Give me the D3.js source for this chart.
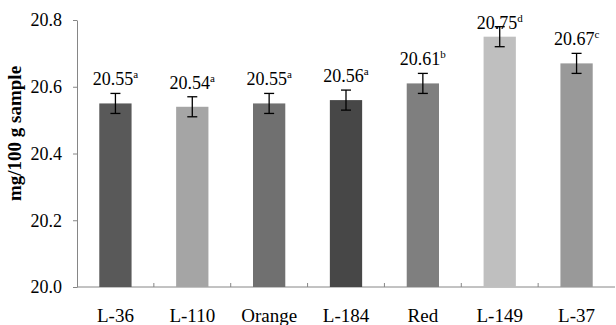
<!DOCTYPE html>
<html lang="en">
<head>
    <meta charset="UTF-8">
    <title>mg/100 g sample</title>
</head>
<body style="margin:0;background:#fff">
    <svg width="616" height="325"></svg>

    <script src="https://d3js.org/d3.v7.min.js"></script>
    <script>
        const categories = ["L-36", "L-110", "Orange", "L-184", "Red", "L-149", "L-37"];
        const values = [20.55, 20.54, 20.55, 20.56, 20.61, 20.75, 20.67];
        const errors = [0.03, 0.03, 0.03, 0.03, 0.03, 0.03, 0.03];
        const letters = ["a", "a", "a", "a", "b", "d", "c"];
        const yTicks = [20.0, 20.2, 20.4, 20.6, 20.8];
        const colors = ["#595959", "#a5a5a5", "#707070", "#474747", "#7f7f7f", "#bfbfbf", "#999999"];

        const width = 616, height = 325;
        const margin = { top: 20, right: 1, bottom: 38, left: 77 };
        const innerW = width - margin.left - margin.right;
        const innerH = height - margin.top - margin.bottom;
        const serif = '"Liberation Serif"';

        const svg = d3.select("svg");
        const g = svg.append("g").attr("transform", `translate(${margin.left},${margin.top})`);

        const x = d3.scaleBand().domain(categories).range([0, innerW]).paddingInner(0.58).paddingOuter(0.29);
        const y = d3.scaleLinear().domain([20.0, 20.8]).range([innerH, 0]);

        const rows = categories.map((c, i) => ({ c, v: values[i], e: errors[i], l: letters[i], col: colors[i] }));

        // y axis
        const yAxis = g.append("g")
            .call(d3.axisLeft(y).tickValues(yTicks).tickFormat(d3.format(".1f")).tickSize(4).tickSizeOuter(0));
        yAxis.selectAll("path, line").attr("stroke", "#868686");
        yAxis.selectAll("text").attr("x", -15)
            .style("font-family", serif).style("font-size", "18px").style("fill", "#000");

        // x axis with ticks between categories
        const bounds = d3.range(categories.length + 1).map(i => i * innerW / categories.length);
        g.append("line")
            .attr("x1", 0).attr("x2", innerW).attr("y1", innerH).attr("y2", innerH)
            .attr("stroke", "#868686");
        g.selectAll(".xtick").data(bounds.slice(1, -1)).enter().append("line")
            .attr("x1", d => d).attr("x2", d => d)
            .attr("y1", innerH).attr("y2", innerH - 4)
            .attr("stroke", "#868686");
        g.selectAll(".xlab").data(categories).enter().append("text")
            .attr("x", d => x(d) + x.bandwidth() / 2)
            .attr("y", innerH + 35)
            .attr("text-anchor", "middle")
            .style("font-family", serif)
            .style("font-size", "19px")
            .text(d => d);

        // bars
        g.selectAll(".bar").data(rows).enter().append("rect")
            .attr("x", d => x(d.c))
            .attr("width", x.bandwidth())
            .attr("y", d => y(d.v))
            .attr("height", d => innerH - y(d.v))
            .attr("fill", d => d.col);

        // error bars
        const eb = g.selectAll(".err").data(rows).enter().append("g")
            .attr("stroke", "#000").attr("stroke-width", 1.3);
        eb.append("line")
            .attr("x1", d => x(d.c) + x.bandwidth() / 2).attr("x2", d => x(d.c) + x.bandwidth() / 2)
            .attr("y1", d => y(d.v + d.e)).attr("y2", d => y(d.v - d.e));
        eb.append("line")
            .attr("x1", d => x(d.c) + x.bandwidth() / 2 - 5).attr("x2", d => x(d.c) + x.bandwidth() / 2 + 5)
            .attr("y1", d => y(d.v + d.e)).attr("y2", d => y(d.v + d.e));
        eb.append("line")
            .attr("x1", d => x(d.c) + x.bandwidth() / 2 - 5).attr("x2", d => x(d.c) + x.bandwidth() / 2 + 5)
            .attr("y1", d => y(d.v - d.e)).attr("y2", d => y(d.v - d.e));

        // value labels, kept inside the plot area
        const lab = g.selectAll(".vlab").data(rows).enter().append("text")
            .attr("x", d => x(d.c) + x.bandwidth() / 2)
            .attr("y", d => Math.max(y(d.v + d.e) - 8, 9))
            .attr("text-anchor", "middle")
            .style("font-family", serif)
            .style("font-size", "18px");
        lab.append("tspan").text(d => d3.format(".2f")(d.v));
        lab.append("tspan").attr("dy", -7).style("font-size", "11px").text(d => d.l);

        // y title
        svg.append("text")
            .attr("transform", `translate(21,${margin.top + innerH / 2 - 20}) rotate(-90)`)
            .attr("text-anchor", "middle")
            .style("font-family", serif)
            .style("font-size", "19px")
            .style("font-weight", "bold")
            .text("mg/100 g sample");
    </script>
</body>
</html>
